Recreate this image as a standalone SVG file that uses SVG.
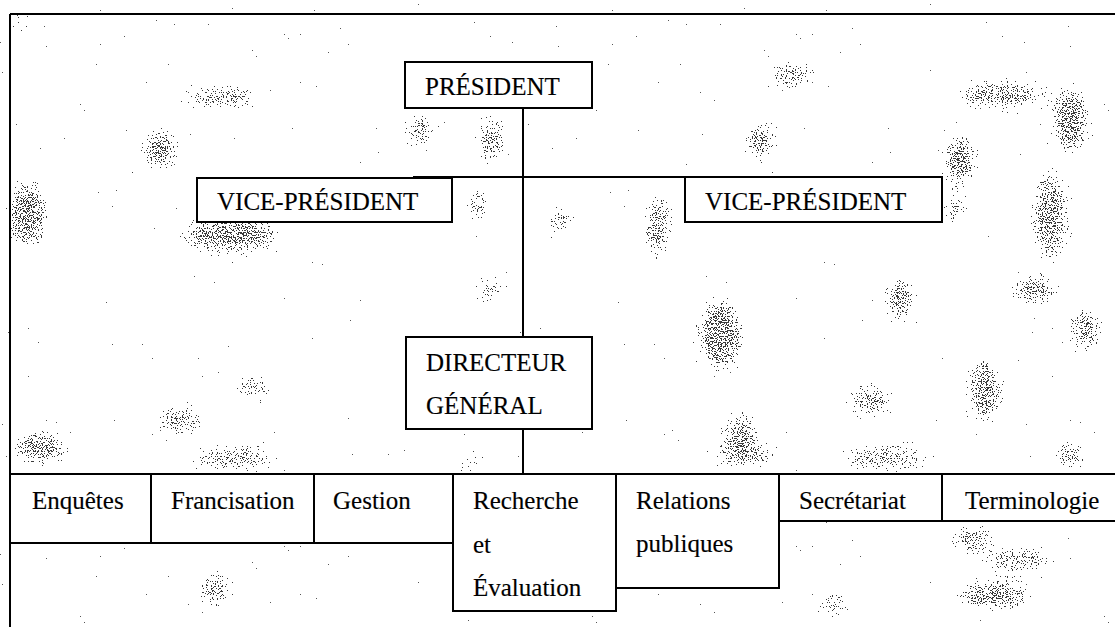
<svg xmlns="http://www.w3.org/2000/svg" width="1115" height="627" viewBox="0 0 1115 627">
  <defs>
    <!-- grainy halftone for the paper blotches: blurred shape + noise, thresholded -->
    <filter id="grain" x="-60%" y="-60%" width="220%" height="220%" color-interpolation-filters="sRGB">
      <feGaussianBlur in="SourceAlpha" stdDeviation="9" result="soft"/>
      <feTurbulence type="fractalNoise" baseFrequency="0.8" numOctaves="2" seed="7" result="noise"/>
      <feColorMatrix in="noise" type="matrix" values="0 0 0 0 0  0 0 0 0 0  0 0 0 0 0  1 0 0 0 0" result="na"/>
      <feComposite in="soft" in2="na" operator="arithmetic" k1="0" k2="1" k3="2.5" k4="-1.8" result="mix"/>
      <feComponentTransfer in="mix" result="mask">
        <feFuncA type="discrete" tableValues="0 1"/>
      </feComponentTransfer>
      <feFlood flood-color="#3a3a3a"/>
      <feComposite in2="mask" operator="in"/>
    </filter>
    <!-- sparse specks over the whole sheet -->
    <filter id="specks" x="0" y="0" width="100%" height="100%" color-interpolation-filters="sRGB">
      <feTurbulence type="fractalNoise" baseFrequency="0.5" numOctaves="2" seed="21" result="noise"/>
      <feColorMatrix in="noise" type="matrix" values="0 0 0 0 0  0 0 0 0 0  0 0 0 0 0  8 0 0 0 -6.1" result="na"/>
      <feComponentTransfer in="na" result="mask">
        <feFuncA type="discrete" tableValues="0 1"/>
      </feComponentTransfer>
      <feFlood flood-color="#555"/>
      <feComposite in2="mask" operator="in"/>
    </filter>
    <style>
      .box { fill: #fff; stroke: #000; stroke-width: 2; }
      .line { stroke: #000; stroke-width: 2; fill: none; }
      .lbl { font-family: "Liberation Serif", "Times New Roman", serif; font-size: 25px; fill: #000; stroke: #000; stroke-width: 0.15; }
      .blot { fill: #000; }
    </style>
  </defs>

  <rect width="1115" height="627" fill="#fff"/>

  <!-- paper texture -->
  <rect width="1115" height="627" fill="#fff" filter="url(#specks)"/>
  <g id="texture" filter="url(#grain)">
    <ellipse class="blot" cx="222" cy="97" rx="40" ry="12"/>
    <ellipse class="blot" cx="160" cy="150" rx="20" ry="22"/>
    <ellipse class="blot" cx="230" cy="235" rx="50" ry="20"/>
    <ellipse class="blot" cx="28" cy="215" rx="22" ry="36"/>
    <ellipse class="blot" cx="18" cy="22" rx="12" ry="10"/>
    <ellipse class="blot" cx="492" cy="140" rx="14" ry="28"/>
    <ellipse class="blot" cx="478" cy="205" rx="14" ry="16"/>
    <ellipse class="blot" cx="420" cy="130" rx="16" ry="18"/>
    <ellipse class="blot" cx="560" cy="220" rx="12" ry="18"/>
    <ellipse class="blot" cx="658" cy="225" rx="14" ry="36"/>
    <ellipse class="blot" cx="720" cy="335" rx="24" ry="38"/>
    <ellipse class="blot" cx="740" cy="430" rx="18" ry="18"/>
    <ellipse class="blot" cx="255" cy="388" rx="20" ry="14"/>
    <ellipse class="blot" cx="180" cy="420" rx="28" ry="14"/>
    <ellipse class="blot" cx="40" cy="448" rx="30" ry="18"/>
    <ellipse class="blot" cx="235" cy="458" rx="48" ry="12"/>
    <ellipse class="blot" cx="470" cy="462" rx="14" ry="10"/>
    <ellipse class="blot" cx="490" cy="290" rx="18" ry="12"/>
    <ellipse class="blot" cx="1000" cy="95" rx="50" ry="14"/>
    <ellipse class="blot" cx="960" cy="160" rx="18" ry="28"/>
    <ellipse class="blot" cx="1070" cy="120" rx="20" ry="36"/>
    <ellipse class="blot" cx="1050" cy="215" rx="18" ry="48"/>
    <ellipse class="blot" cx="1035" cy="290" rx="26" ry="16"/>
    <ellipse class="blot" cx="955" cy="210" rx="12" ry="18"/>
    <ellipse class="blot" cx="985" cy="390" rx="18" ry="36"/>
    <ellipse class="blot" cx="1085" cy="330" rx="18" ry="22"/>
    <ellipse class="blot" cx="870" cy="400" rx="24" ry="16"/>
    <ellipse class="blot" cx="900" cy="300" rx="16" ry="26"/>
    <ellipse class="blot" cx="790" cy="75" rx="26" ry="14"/>
    <ellipse class="blot" cx="760" cy="140" rx="16" ry="22"/>
    <ellipse class="blot" cx="745" cy="455" rx="36" ry="12"/>
    <ellipse class="blot" cx="885" cy="458" rx="50" ry="12"/>
    <ellipse class="blot" cx="1070" cy="455" rx="18" ry="16"/>
    <ellipse class="blot" cx="970" cy="540" rx="24" ry="14"/>
    <ellipse class="blot" cx="1020" cy="560" rx="38" ry="12"/>
    <ellipse class="blot" cx="995" cy="595" rx="40" ry="16"/>
    <ellipse class="blot" cx="215" cy="590" rx="18" ry="18"/>
    <ellipse class="blot" cx="835" cy="605" rx="20" ry="12"/>
  </g>

  <!-- outer frame -->
  <g id="frame">
    <path class="line" d="M10 14H1115M10 14V627"/>
  </g>

  <!-- connectors -->
  <g id="connectors">
    <path class="line" d="M523 108V337"/>
    <path class="line" d="M413 177H685"/>
    <path class="line" d="M523 429V474"/>
    <path class="line" d="M10 474H1115"/>
  </g>

  <g id="president">
    <rect class="box" x="405" y="62" width="187" height="46"/>
    <text class="lbl" x="425" y="95">PRÉSIDENT</text>
  </g>

  <g id="vp-left">
    <rect class="box" x="197" y="178" width="255" height="44"/>
    <text class="lbl" x="217" y="210">VICE-PRÉSIDENT</text>
  </g>

  <g id="vp-right">
    <rect class="box" x="685" y="177" width="257" height="45"/>
    <text class="lbl" x="705" y="210">VICE-PRÉSIDENT</text>
  </g>

  <g id="directeur-general">
    <rect class="box" x="406" y="337" width="186" height="92"/>
    <text class="lbl" x="426" y="371">DIRECTEUR</text>
    <text class="lbl" x="426" y="414">GÉNÉRAL</text>
  </g>

  <g id="enquetes">
    <rect class="box" x="10" y="474" width="141" height="69"/>
    <text class="lbl" x="32" y="509">Enquêtes</text>
  </g>

  <g id="francisation">
    <rect class="box" x="151" y="474" width="163" height="69"/>
    <text class="lbl" x="171" y="509">Francisation</text>
  </g>

  <g id="gestion">
    <rect class="box" x="314" y="474" width="139" height="69"/>
    <text class="lbl" x="333" y="509">Gestion</text>
  </g>

  <g id="recherche">
    <rect class="box" x="453" y="474" width="163" height="137"/>
    <text class="lbl" x="473" y="509">Recherche</text>
    <text class="lbl" x="473" y="553">et</text>
    <text class="lbl" x="473" y="596">Évaluation</text>
  </g>

  <g id="relations">
    <rect class="box" x="616" y="474" width="163" height="114"/>
    <text class="lbl" x="636" y="509">Relations</text>
    <text class="lbl" x="636" y="552">publiques</text>
  </g>

  <g id="secretariat">
    <rect class="box" x="779" y="474" width="163" height="47"/>
    <text class="lbl" x="799" y="509">Secrétariat</text>
  </g>

  <g id="terminologie">
    <rect class="box" x="942" y="474" width="180" height="47"/>
    <text class="lbl" x="965" y="509">Terminologie</text>
  </g>
</svg>
